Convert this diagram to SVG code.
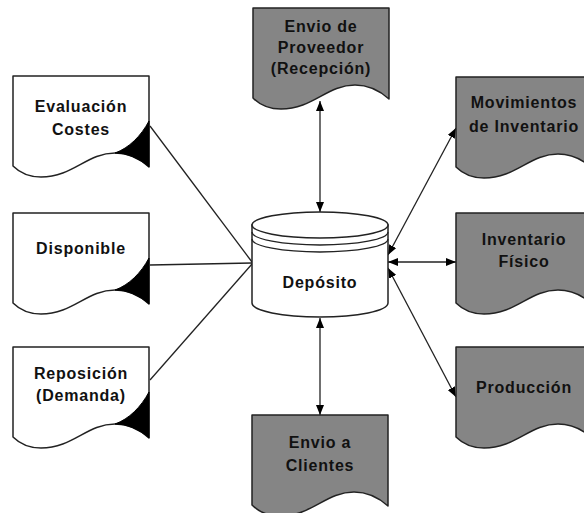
<svg xmlns="http://www.w3.org/2000/svg" width="584" height="513" viewBox="0 0 584 513">
<style>
.doc{stroke:#222;stroke-width:1.5;stroke-linejoin:round}
.w{fill:#fff}
.g{fill:#858585}
.corner{fill:#000;stroke:#000;stroke-width:1}
.t{font-family:"Liberation Sans",Arial,sans-serif;font-weight:bold;font-size:16px;letter-spacing:0.8px;fill:#111;text-anchor:middle}
.c{stroke:#222;stroke-width:1.3;fill:none}
.a{marker-start:url(#ah);marker-end:url(#ah)}
.cyl{fill:#fff;stroke:#222;stroke-width:1.5}
</style>
<defs>
<marker id="ah" viewBox="0 0 10 8" refX="10" refY="4" markerWidth="10" markerHeight="8" markerUnits="userSpaceOnUse" orient="auto-start-reverse">
<path d="M0,0 L10,4 L0,8 Z" fill="#000"/>
</marker>
<path id="docshape" d="M0,0 H136 V91 C126,82 114,77 102,77 C74,77 60,101 28,101 C15,101 6,96 0,90 Z"/>
<path id="cornershape" d="M136,45 V91 C126,82 114,77 102,77 C116,72 128,60 136,45 Z"/>
</defs>

<g id="connectors">
<line class="c" x1="150" y1="126" x2="252" y2="262"/>
<line class="c" x1="150" y1="265" x2="252" y2="263"/>
<line class="c" x1="150" y1="380" x2="252" y2="264"/>
<line class="c a" x1="320" y1="101" x2="320" y2="212"/>
<line class="c a" x1="320" y1="318" x2="320" y2="415"/>
<line class="c a" x1="388" y1="255" x2="456" y2="128"/>
<line class="c a" x1="388" y1="262" x2="456" y2="262"/>
<line class="c a" x1="388" y1="268" x2="456" y2="397"/>
</g>

<g id="deposito">
<path class="cyl" d="M252,225 V303 A68,14 0 0 0 388,303 V225 Z"/>
<ellipse class="cyl" cx="320" cy="225" rx="68" ry="13"/>
<path class="c" stroke-width="1.5" d="M252,232 A68,13 0 0 0 388,232"/>
<path class="c" stroke-width="1.5" d="M252,239 A68,13 0 0 0 388,239"/>
<text class="t" x="320" y="288">Depósito</text>
</g>

<g id="evaluacion" transform="translate(13,76)">
<use href="#docshape" class="doc w"/>
<use href="#cornershape" class="corner"/>
<text class="t" x="68" y="36">Evaluación</text>
<text class="t" x="68" y="59">Costes</text>
</g>

<g id="disponible" transform="translate(13,213)">
<use href="#docshape" class="doc w"/>
<use href="#cornershape" class="corner"/>
<text class="t" x="68" y="41">Disponible</text>
</g>

<g id="reposicion" transform="translate(13,347)">
<use href="#docshape" class="doc w"/>
<use href="#cornershape" class="corner"/>
<text class="t" x="68" y="32">Reposición</text>
<text class="t" x="68" y="54">(Demanda)</text>
</g>

<g id="envio-proveedor" transform="translate(253,8)">
<use href="#docshape" class="doc g"/>
<text class="t" x="68" y="24">Envio de</text>
<text class="t" x="68" y="45">Proveedor</text>
<text class="t" x="68" y="66">(Recepción)</text>
</g>

<g id="movimientos" transform="translate(456,77)">
<use href="#docshape" class="doc g"/>
<text class="t" x="68" y="31">Movimientos</text>
<text class="t" x="68" y="55">de Inventario</text>
</g>

<g id="inventario-fisico" transform="translate(456,213)">
<use href="#docshape" class="doc g"/>
<text class="t" x="68" y="32">Inventario</text>
<text class="t" x="68" y="54">Físico</text>
</g>

<g id="produccion" transform="translate(456,347)">
<use href="#docshape" class="doc g"/>
<text class="t" x="68" y="46">Producción</text>
</g>

<g id="envio-clientes" transform="translate(252,415)">
<use href="#docshape" class="doc g"/>
<text class="t" x="68" y="33">Envio a</text>
<text class="t" x="68" y="56">Clientes</text>
</g>
</svg>
